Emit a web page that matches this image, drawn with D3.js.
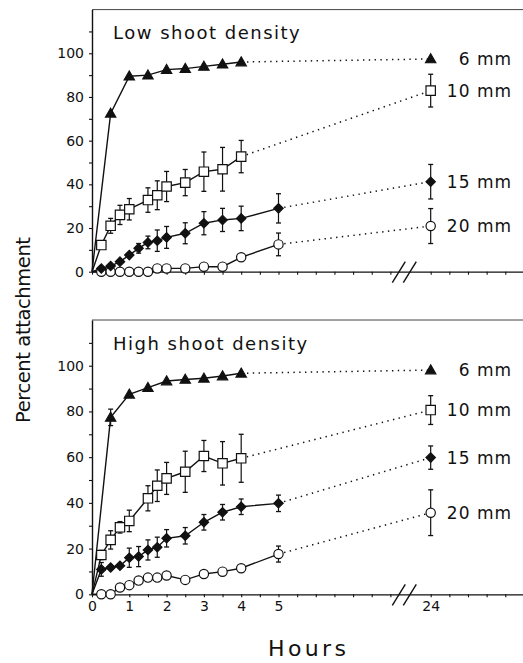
<!DOCTYPE html>
<html>
<head>
<meta charset="utf-8">
<script src="https://cdn.jsdelivr.net/npm/d3@7"></script>
<style>
  html, body { margin: 0; padding: 0; background: #fff; }
  svg { display: block; }
  text { font-family: "DejaVu Sans", sans-serif; fill: #111; }
</style>
</head>
<body>
<svg id="chart" width="523" height="663"></svg>
<script>
// ---------- DATA ----------
const sizeLabels = ["6 mm", "10 mm", "15 mm", "20 mm"];
const times = [0, 0.25, 0.5, 0.75, 1, 1.25, 1.5, 1.75, 2, 2.5, 3, 3.5, 4, 5];
const finalHour = 24;
const xTickLabels = ["0", "1", "2", "3", "4", "5", "24"];
const yTickLabels = ["0", "20", "40", "60", "80", "100"];
const panelTitles = ["Low shoot density", "High shoot density"];

// Low shoot density
const low6  = [0, null, 72.5, null, 89.5, null, 90, null, 92.5, 93, 94, 95, 96, null];
const low10 = [0, 12.2, 21, 26, 28.6, null, 32.8, 35, 39, 40.8, 45.8, 46.9, 52.7, null];
const low15 = [0, 1.5, 2.6, 4.6, 7.6, 10.7, 13.4, 14.2, 15.7, 17.6, 22.2, 23.7, 24.4, 29];
const low20 = [0, 0, 0, 0, 0, 0, 0, 1.5, 1.5, 1.5, 2.3, 2.3, 6.6, 12.5];
const low6err  = [0, 0, 0, 0, 0, 0, 0, 0, 0, 0, 0, 0, 0, 0];
const low10err = [0, 0, 3.4, 4.4, 4.9, 0, 5.6, 6.6, 6.9, 6, 9, 10, 7.4, 0];
const low15err = [0, 0, 0, 0, 0, 2.2, 2.9, 4.9, 5, 4.8, 5.3, 5.3, 5.6, 6.7];
const low20err = [0, 0, 0, 0, 0, 0, 0, 0, 0, 0, 0, 0, 0, 5.2];
const low24    = [97.4, 82.9, 41.2, 20.9];
const low24err = [0, 7.5, 7.9, 8];

// High shoot density
const high6  = [0, null, 77.4, null, 87.5, null, 90.4, null, 93.3, 94, 94.5, 95.5, 96.7, null];
const high10 = [0, 17.2, 23.8, 29.3, 32.1, null, 42, 47.5, 50.7, 53.6, 60.5, 57.3, 59.5, null];
const high15 = [0, 10.9, 11.7, 12.5, 16, 16.5, 19.4, 20.6, 24.5, 25.6, 31.5, 35.9, 38.3, 39.8];
const high20 = [0, 0, 0, 3, 4, 6, 7.3, 7.3, 8.2, 6.3, 8.9, 9.9, 11.4, 17.6];
const high6err  = [0, 0, 3.6, 0, 0, 0, 0, 0, 0, 0, 0, 0, 0, 0];
const high10err = [0, 2, 4, 2.5, 4.7, 0, 5.5, 6.9, 7, 9, 6.8, 9.5, 10.5, 0];
const high15err = [0, 3, 0, 0, 4.2, 4.4, 4.4, 4.4, 3.8, 3.6, 3.4, 3.4, 3.4, 3.6];
const high20err = [0, 0, 0, 0, 0, 0, 0, 0, 0, 0, 0, 0, 0, 3.5];
const high24    = [98.1, 80.6, 59.8, 35.7];
const high24err = [0, 6.3, 5.1, 10];

// ---------- CHART ----------
const svg = d3.select("#chart");
const W = 523;

// broken x axis: 0..8.4 h, then 23.4..28 h
const x = d3.scaleLinear()
  .domain([0, 8.4, 23.4, 28])
  .range([92, 405.3, 408.3, 579.9]);

const xTickVals = d3.range(0, 8.01, 0.5).concat(d3.range(24, 26.51, 0.5));

const markerTypes = ["triangle", "square", "diamond", "circle"];

function markerPath(type) {
  if (type === "triangle") return d3.symbol(d3.symbolTriangle, 46)();
  if (type === "square") return d3.symbol(d3.symbolSquare, 88)();
  if (type === "diamond") return d3.symbol(d3.symbolSquare, 44)();
  return d3.symbol(d3.symbolCircle, 68)();
}

const panels = [
  { title: panelTitles[0], y0: 271.7, yTop: 9.6,
    series: [low6, low10, low15, low20], errs: [low6err, low10err, low15err, low20err],
    end: low24, endErr: low24err, labels: false, titleY: 38.5 },
  { title: panelTitles[1], y0: 594.3, yTop: 320,
    series: [high6, high10, high15, high20], errs: [high6err, high10err, high15err, high20err],
    end: high24, endErr: high24err, labels: true, titleY: 350 }
];

panels.forEach(p => {
  const y = d3.scaleLinear().domain([0, 120]).range([p.y0, p.yTop]);
  const g = svg.append("g");

  // top frame line
  g.append("line")
    .attr("x1", x(0)).attr("x2", W)
    .attr("y1", y(120)).attr("y2", y(120))
    .attr("stroke", "#444").attr("stroke-width", 1);

  // y axis
  const yAxis = d3.axisLeft(y)
    .tickValues(d3.range(0, 111, 10))
    .tickSize(3).tickSizeOuter(0).tickPadding(5)
    .tickFormat(d => (d % 20 === 0 && d <= 100) ? yTickLabels[d / 20] : "");
  const ya = g.append("g").attr("transform", `translate(${x(0)},0)`).call(yAxis);
  ya.select(".domain").attr("stroke", "#111").attr("stroke-width", 1.4);
  ya.selectAll(".tick line").attr("stroke", "#111").attr("stroke-width", 1.1);
  ya.selectAll(".tick text").style("font-family", "DejaVu Sans").style("font-size", "14px").attr("fill", "#111");

  // x axis
  const labelMap = { 0: "0", 1: "1", 2: "2", 3: "3", 4: "4", 5: "5", 24: "24" };
  const xAxis = d3.axisBottom(x)
    .tickValues(xTickVals)
    .tickSize(3).tickSizeOuter(0).tickPadding(4)
    .tickFormat(d => (p.labels && labelMap[d] !== undefined) ? xTickLabels[xTickLabels.indexOf(labelMap[d])] : "");
  const xa = g.append("g").attr("transform", `translate(0,${y(0)})`).call(xAxis);
  xa.select(".domain").attr("stroke", "#111").attr("stroke-width", 1.3);
  xa.selectAll(".tick line").attr("stroke", "#111").attr("stroke-width", 1.1);
  xa.selectAll(".tick text").style("font-family", "DejaVu Sans").style("font-size", "14px").attr("fill", "#111");

  // break marks
  const bx = x(8.4);
  [-6.5, 4.5].forEach(dx => {
    g.append("line")
      .attr("x1", bx + dx - 6.5).attr("y1", y(0) + 11)
      .attr("x2", bx + dx + 6.5).attr("y2", y(0) - 10)
      .attr("stroke", "#111").attr("stroke-width", 1.4);
  });

  // title
  g.append("text")
    .attr("x", 113).attr("y", p.titleY)
    .style("font-size", "18px").style("letter-spacing", "1.5px")
    .text(p.title);

  // dotted connectors to 24 h
  p.series.forEach((s, i) => {
    let lastIdx = -1;
    s.forEach((v, j) => { if (v !== null) lastIdx = j; });
    g.append("line")
      .attr("x1", x(times[lastIdx])).attr("y1", y(s[lastIdx]))
      .attr("x2", x(finalHour)).attr("y2", y(p.end[i]))
      .attr("stroke", "#111").attr("stroke-width", 1.5)
      .attr("stroke-dasharray", "1.4,4.4");
  });

  // solid lines (draw 20 mm first so heavier series sit on top)
  const line = d3.line().x(d => x(d[0])).y(d => y(d[1]));
  const order = [3, 2, 1, 0];
  order.forEach(i => {
    const pts = times.map((t, j) => [t, p.series[i][j]]).filter(d => d[1] !== null);
    g.append("path").datum(pts)
      .attr("d", line).attr("fill", "none")
      .attr("stroke", "#111").attr("stroke-width", 1.4);
  });

  // error bars
  function errBar(t, v, e) {
    if (!e) return;
    const cx = x(t);
    g.append("line").attr("x1", cx).attr("x2", cx)
      .attr("y1", y(v - e)).attr("y2", y(v + e))
      .attr("stroke", "#111").attr("stroke-width", 1.2);
    [v - e, v + e].forEach(yy => {
      g.append("line").attr("x1", cx - 2.5).attr("x2", cx + 2.5)
        .attr("y1", y(yy)).attr("y2", y(yy))
        .attr("stroke", "#111").attr("stroke-width", 1.3);
    });
  }
  order.forEach(i => {
    times.forEach((t, j) => {
      if (p.series[i][j] !== null && j > 0) errBar(t, p.series[i][j], p.errs[i][j]);
    });
    errBar(finalHour, p.end[i], p.endErr[i]);
  });

  // markers
  order.forEach(i => {
    const type = markerTypes[i];
    const pts = times.map((t, j) => [t, p.series[i][j]]).filter((d, j) => d[1] !== null && j > 0);
    pts.push([finalHour, p.end[i]]);
    const filled = (type === "triangle" || type === "diamond");
    g.selectAll(null).data(pts).enter().append("path")
      .attr("d", markerPath(type))
      .attr("transform", d => `translate(${x(d[0])},${y(d[1]) + (type === "triangle" ? 0.8 : 0)})` + (type === "diamond" ? " rotate(45)" : ""))
      .attr("fill", filled ? "#111" : "#fff")
      .attr("stroke", "#111").attr("stroke-width", 1.2);
  });

  // series labels at 24 h
  p.end.forEach((v, i) => {
    g.append("text")
      .attr("x", 512).attr("y", y(v))
      .attr("text-anchor", "end")
      .attr("dominant-baseline", "central")
      .style("font-size", "17px").style("letter-spacing", "1px")
      .text(sizeLabels[i]);
  });
});

// axis titles
svg.append("text")
  .attr("transform", "translate(30,423) rotate(-90)")
  .attr("textLength", 186).attr("lengthAdjust", "spacing")
  .style("font-size", "19.5px")
  .text("Percent attachment");

svg.append("text")
  .attr("x", 268).attr("y", 656)
  .attr("textLength", 78).attr("lengthAdjust", "spacing")
  .style("font-size", "22px")
  .text("Hours");
</script>
</body>
</html>
